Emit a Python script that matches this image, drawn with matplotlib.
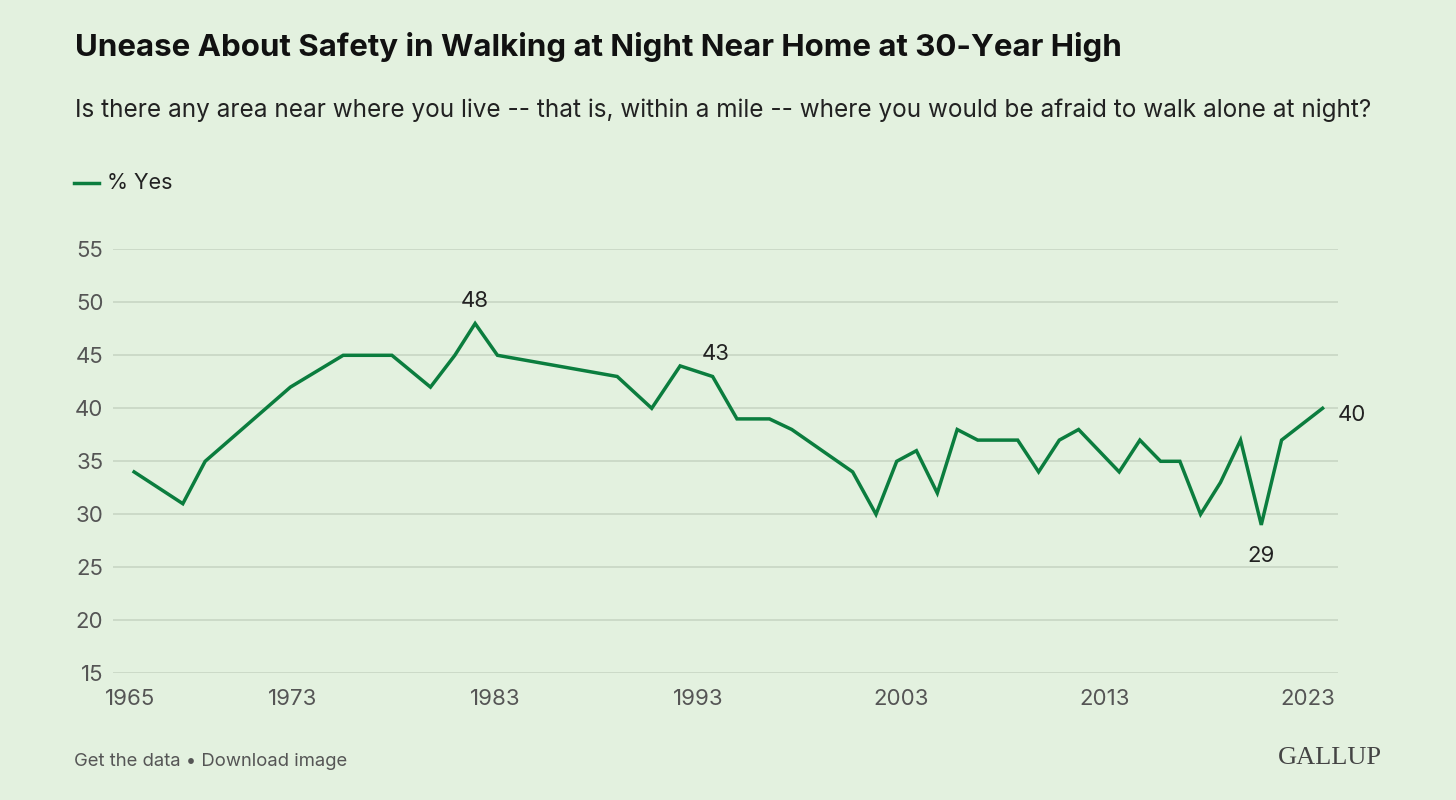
import matplotlib
matplotlib.use("Agg")
from matplotlib import pyplot as plt

plt.rcParams['font.family'] = ['Inter', 'DejaVu Sans']

# survey timing (fractional year) and % saying yes
years = [1965.2, 1967.6, 1968.7, 1972.9, 1975.5, 1977.9, 1979.8, 1981.0, 1982.0, 1983.1,
         1989.0, 1990.7, 1992.1, 1993.7, 1994.9, 1996.5, 1997.6, 2000.6, 2001.75, 2002.77,
         2003.74, 2004.77, 2005.75, 2006.76, 2007.75, 2008.73, 2009.76, 2010.78, 2011.73, 2012.73,
         2013.73, 2014.75, 2015.77, 2016.72, 2017.74, 2018.72, 2019.71, 2020.73, 2021.73, 2023.75]
pct_yes = [34, 31, 35, 42, 45, 45, 42, 45, 48, 45,
           43, 40, 44, 43, 39, 39, 38, 34, 30, 35,
           36, 32, 38, 37, 37, 37, 34, 37, 38, 36,
           34, 37, 35, 35, 30, 33, 37, 29, 37, 40]

xticks = [1965, 1973, 1983, 1993, 2003, 2013, 2023]
yticks = [15, 20, 25, 30, 35, 40, 45, 50, 55]

bg = '#e3f1df'
green = '#0b7d3e'

fig = plt.figure(figsize=(14.56, 8), dpi=100, facecolor=bg)
ax = fig.add_axes([113 / 1456, 1 - 673.3 / 800, 1225 / 1456, 424 / 800])
ax.set_facecolor(bg)

ax.plot(years, pct_yes, color=green, lw=2.5, solid_joinstyle='miter', zorder=3)

ax.set_xlim(1964.16, 2024.51)
ax.set_ylim(15, 55)
ax.set_yticks(yticks)
ax.set_xticks(xticks)
ax.grid(axis='y', color='#c6d3c2', lw=1.1)
ax.grid(axis='x', visible=False)
for s in ax.spines.values():
    s.set_visible(False)
ax.tick_params(length=0, labelsize=16, labelcolor='#555555')
ax.tick_params(axis='y', pad=7)
ax.tick_params(axis='x', pad=11)

# point labels
def label(i, dx, dy):
    ax.annotate(str(pct_yes[i]), (years[i], pct_yes[i]), xytext=(dx * 0.72, dy * 0.72),
                textcoords='offset points', ha='center', va='center',
                fontsize=16, color='#222222')

label(8, 0, 22)
label(13, 3, 22)
label(39, 29, -7)
label(37, 0, -31)

# titles
fig.text(75 / 1456, 1 - 56 / 800, 'Unease About Safety in Walking at Night Near Home at 30-Year High',
         fontsize=22.5, fontweight='bold', color='#111111', va='baseline')
fig.text(75 / 1456, 1 - 117 / 800,
         'Is there any area near where you live -- that is, within a mile -- where you would be afraid to walk alone at night?',
         fontsize=17.5, color='#222222', va='baseline')

# legend
fig.add_artist(plt.Line2D([74 / 1456, 99 / 1456], [1 - 183 / 800] * 2, color=green, lw=2.5))
fig.text(107 / 1456, 1 - 183 / 800, '% Yes', fontsize=15.5, color='#222222', va='center')

# footer
fig.text(74 / 1456, 1 - 761 / 800, 'Get the data \u2022 Download image', fontsize=13.3,
         color='#555555', va='center')
fig.text(1382 / 1456, 1 - 758 / 800, 'GALLUP', fontsize=19, family='Liberation Serif',
         color='#444444', va='center', ha='right')

fig.savefig('out.png', dpi=100, facecolor=bg)
